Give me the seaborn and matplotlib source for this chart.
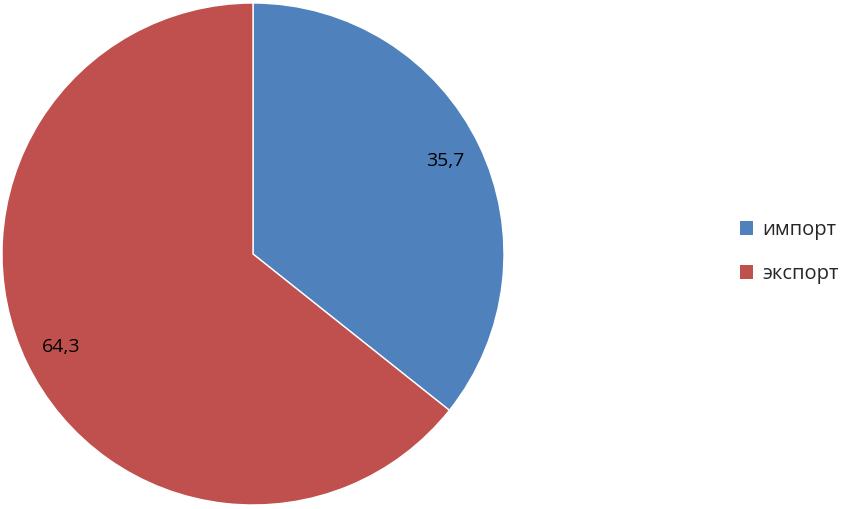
import matplotlib
matplotlib.use("Agg")
import matplotlib.pyplot as plt
import seaborn as sns
from matplotlib.patches import Patch

categories = ["импорт", "экспорт"]
values = [35.7, 64.3]
colors = ["#4F81BD", "#C0504D"]

sns.set_style("white")
plt.rcParams['font.family'] = ['Open Sans', 'DejaVu Sans']

fig = plt.figure(figsize=(8.5, 5.09), dpi=100)
ax = fig.add_axes([2/850, 4/509, 502/850, 502/509])

def fmt(p):
    v = p * sum(values) / 100
    return f"{v:.1f}".replace(".", ",")

wedges, texts, autotexts = ax.pie(values, colors=colors, startangle=90, counterclock=False,
                                  autopct=fmt, pctdistance=0.85,
                                  wedgeprops=dict(edgecolor="white", linewidth=1),
                                  textprops=dict(fontsize=14, color="black"))
ax.set_aspect("equal")
ax.set_xlim(-1, 1)
ax.set_ylim(-1, 1)

handles = [Patch(facecolor=c, edgecolor="none") for c in colors]
fig.legend(handles, categories, loc="center left", bbox_to_anchor=(722/850, 1 - 252/509),
           frameon=False, fontsize=14.5, handlelength=0.65, handleheight=0.65,
           handletextpad=0.45, labelspacing=1.2)

fig.savefig("out.png", dpi=100)
